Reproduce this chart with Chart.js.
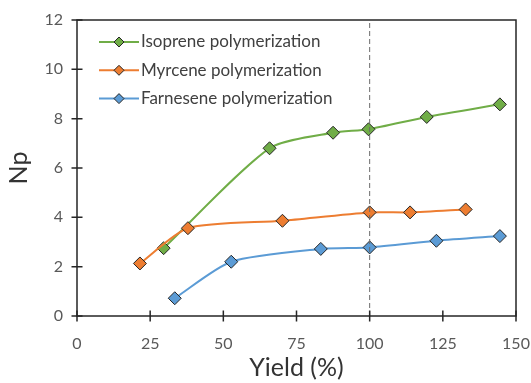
<!DOCTYPE html>
<html>
<head>
<meta charset="utf-8">
<script src="https://cdn.jsdelivr.net/npm/chart.js@4.4.1/dist/chart.umd.min.js"></script>
<style>
  html, body { margin: 0; padding: 0; background: #ffffff; }
  #wrap { width: 531px; height: 383px; }
</style>
</head>
<body>
<div id="wrap"><canvas id="c" width="531" height="383"></canvas></div>
<script>
// ---- data ----
const seriesNames = ['Isoprene polymerization', 'Myrcene polymerization', 'Farnesene polymerization'];
const yieldIso = [29.6, 65.8, 87.5, 99.6, 119.5, 144.5];
const npIso    = [2.75, 6.80, 7.43, 7.57, 8.07, 8.58];
const yieldMyr = [21.5, 37.9, 70.2, 100.0, 113.8, 132.8];
const npMyr    = [2.13, 3.56, 3.86, 4.20, 4.20, 4.32];
const yieldFar = [33.4, 52.7, 83.3, 100.0, 122.8, 144.5];
const npFar    = [0.72, 2.20, 2.72, 2.78, 3.05, 3.24];
const refYield = [100, 100];
const refNp    = [0, 12];
const xTicks = [0, 25, 50, 75, 100, 125, 150];
const yTicks = [0, 2, 4, 6, 8, 10, 12];

const colors = ['#70AD47', '#ED7D31', '#5B9BD5'];
const FONT = 'Lato, "Open Sans", sans-serif';

function pts(xs, ys) { return xs.map((x, i) => ({ x: x, y: ys[i] })); }

function series(i, xs, ys, order) {
  return {
    label: seriesNames[i],
    data: pts(xs, ys),
    borderColor: colors[i],
    backgroundColor: colors[i],
    borderWidth: 2,
    tension: 0.24,
    pointStyle: 'rectRot',
    pointRadius: 6.5,
    pointHoverRadius: 6.5,
    pointBackgroundColor: colors[i],
    pointBorderColor: '#262626',
    pointBorderWidth: 1,
    order: order,
    isSeries: true
  };
}

const frameAndTicks = {
  id: 'frameAndTicks',
  afterDatasetsDraw(chart) {
    const { ctx, chartArea: a, scales } = chart;
    ctx.save();
    ctx.strokeStyle = '#262626';
    ctx.lineWidth = 1.5;
    ctx.strokeRect(a.left, a.top, a.right - a.left, a.bottom - a.top);
    ctx.beginPath();
    yTicks.forEach(v => {
      const y = scales.y.getPixelForValue(v);
      ctx.moveTo(a.left - 5.5, y); ctx.lineTo(a.left + 5.5, y);
    });
    xTicks.forEach(v => {
      const x = scales.x.getPixelForValue(v);
      ctx.moveTo(x, a.bottom - 5.5); ctx.lineTo(x, a.bottom + 5.5);
    });
    ctx.stroke();
    ctx.restore();
  }
};

const insideLegend = {
  id: 'insideLegend',
  afterDraw(chart) {
    const { ctx } = chart;
    const ds = chart.data.datasets.filter(d => d.isSeries);
    ctx.save();
    ctx.font = '17px ' + FONT;
    ctx.textBaseline = 'middle';
    ctx.textAlign = 'left';
    ds.forEach((d, i) => {
      const y = 42 + i * 28.3;
      ctx.strokeStyle = d.borderColor;
      ctx.lineWidth = 2;
      ctx.beginPath(); ctx.moveTo(99, y); ctx.lineTo(139, y); ctx.stroke();
      const r = 5;
      ctx.beginPath();
      ctx.moveTo(119, y - r); ctx.lineTo(119 + r, y); ctx.lineTo(119, y + r); ctx.lineTo(119 - r, y); ctx.closePath();
      ctx.fillStyle = d.borderColor; ctx.fill();
      ctx.strokeStyle = '#262626'; ctx.lineWidth = 1; ctx.stroke();
      ctx.fillStyle = '#404040';
      ctx.fillText(d.label, 141, y);
    });
    ctx.restore();
  }
};

new Chart(document.getElementById('c'), {
  type: 'line',
  data: {
    datasets: [
      series(0, yieldIso, npIso, 3),
      series(1, yieldMyr, npMyr, 2),
      series(2, yieldFar, npFar, 1),
      {
        label: 'ref',
        data: pts(refYield, refNp),
        borderColor: '#6b6b6b',
        borderWidth: 1,
        borderDash: [5, 3],
        pointRadius: 0,
        tension: 0,
        order: 0
      }
    ]
  },
  options: {
    responsive: false,
    animation: false,
    layout: { padding: { top: 20, right: 15, left: 0, bottom: 0 } },
    plugins: { legend: { display: false }, tooltip: { enabled: false } },
    scales: {
      x: {
        type: 'linear', min: 0, max: 150,
        afterBuildTicks: s => { s.ticks = xTicks.map(v => ({ value: v })); },
        afterFit: s => { s.height = 67; s.paddingLeft = 0; s.paddingRight = 0; },
        grid: { display: false, drawTicks: false },
        border: { display: false },
        ticks: { padding: 18, color: '#595959', font: { family: FONT, size: 16 }, maxRotation: 0 },
        title: { display: true, text: 'Yield (%)', color: '#333333', padding: { top: 0, bottom: 0 }, font: { family: FONT, size: 25 } }
      },
      y: {
        type: 'linear', min: 0, max: 12,
        afterBuildTicks: s => { s.ticks = yTicks.map(v => ({ value: v })); },
        afterFit: s => { s.width = 77; s.paddingTop = 0; s.paddingBottom = 0; },
        grid: { display: false, drawTicks: false },
        border: { display: false },
        ticks: { padding: 14, color: '#595959', font: { family: FONT, size: 16 } },
        title: { display: true, text: 'Np', color: '#333333', padding: { top: 4, bottom: 0 }, font: { family: FONT, size: 25 } }
      }
    }
  },
  plugins: [frameAndTicks, insideLegend]
});
</script>
</body>
</html>
